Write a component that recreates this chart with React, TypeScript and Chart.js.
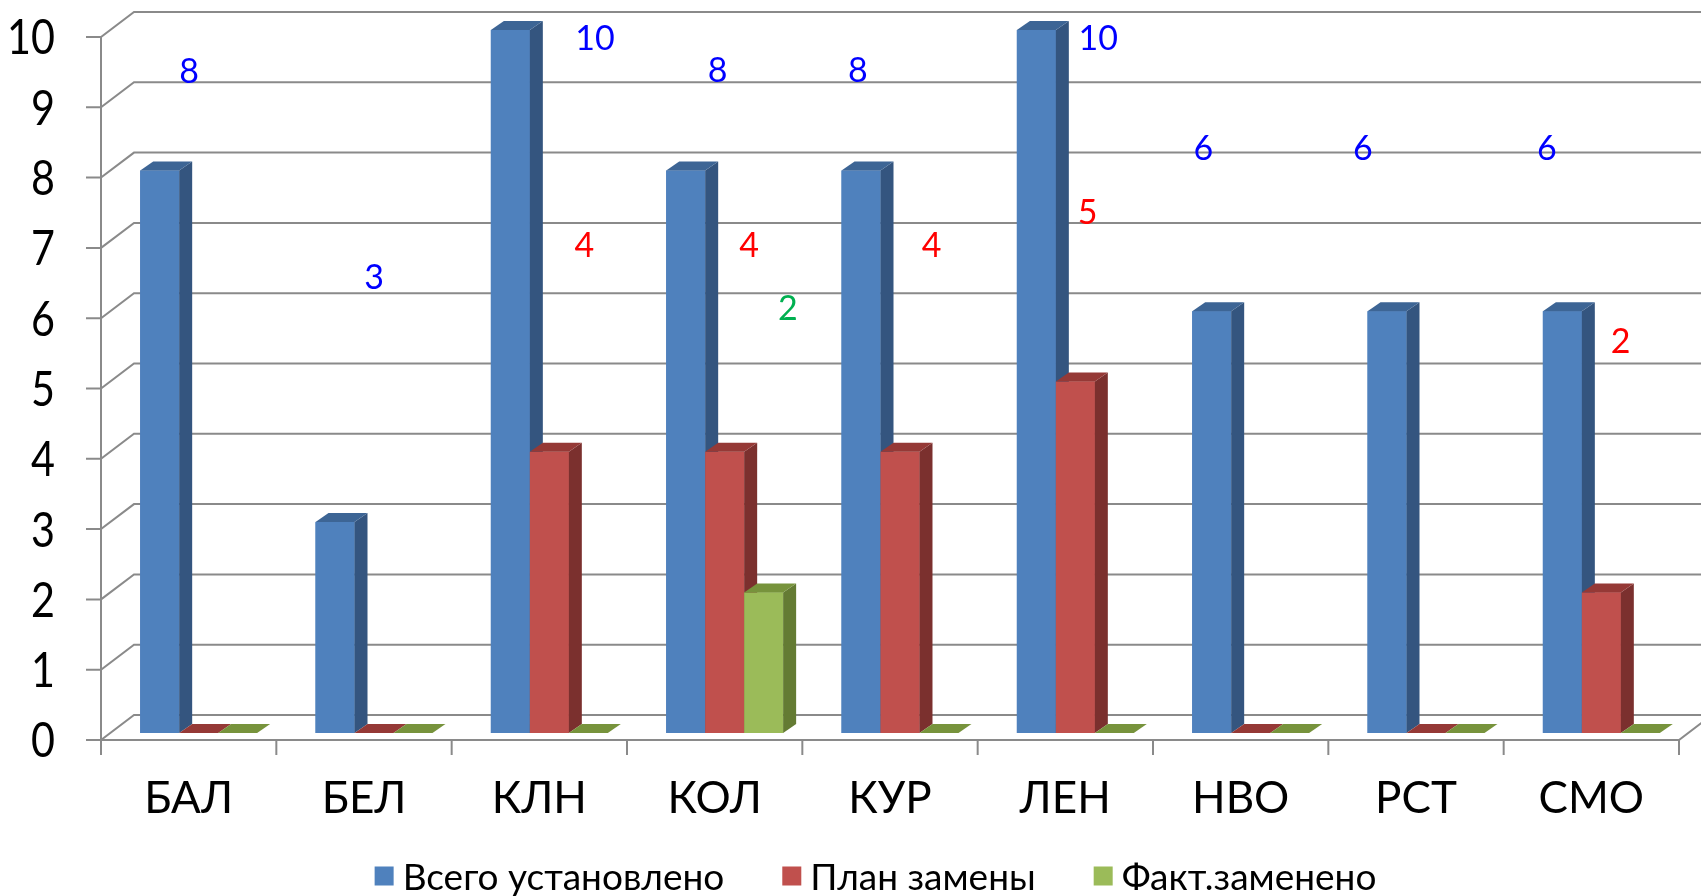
import React, { useEffect, useRef } from "react";
import { Chart, registerables } from "chart.js";
Chart.register(...registerables);

const categories = ["БАЛ", "БЕЛ", "КЛН", "КОЛ", "КУР", "ЛЕН", "НВО", "РСТ", "СМО"];
const totalInstalled = [8, 3, 10, 8, 8, 10, 6, 6, 6];
const planReplace = [0, 0, 4, 4, 4, 5, 0, 0, 2];
const factReplaced = [0, 0, 0, 2, 0, 0, 0, 0, 0];
const seriesNames = ["Всего установлено", "План замены", "Факт.заменено"];
const yTickValues = [0, 1, 2, 3, 4, 5, 6, 7, 8, 9, 10];

// data-label anchors: [category offset, value level] (as placed in the original)
const totalLabelAnchor = [[-0.055, 9.43], [0, 6.5], [0.26, 9.9], [-0.04, 9.45], [-0.24, 9.45], [0.13, 9.9], [-0.27, 8.34], [-0.36, 8.34], [-0.31, 8.34]];
const planLabelAnchor = [[0, 0], [0, 0], [0.2, 6.95], [0.14, 6.95], [0.18, 6.95], [0.07, 7.43], [0, 0], [0, 0], [0.11, 5.59]];
const factLabelAnchor = [[0, 0], [0, 0], [0, 0], [0.36, 6.06], [0, 0], [0, 0], [0, 0], [0, 0], [0, 0]];

const FONT = "Lato";
const FRONT = { dx: -10, dy: 7 };
const BACK = { dx: 23, dy: -18 };
const DEPTH = { dx: 13, dy: -9 };
const GRID = "#8a8a8a";

const faces = [
  { front: "#4F81BD", side: "#34557F", top: "#3D6595" },
  { front: "#C0504D", side: "#7B302E", top: "#953936" },
  { front: "#9BBB59", side: "#647B33", top: "#77933C" },
];
const labelColors = ["#0000FF", "#FF0000", "#00B050"];
const labelAnchors = [totalLabelAnchor, planLabelAnchor, factLabelAnchor];

const pseudo3d = {
  id: "pseudo3d",
  beforeDatasetsDraw(chart: any) {
    const { ctx, scales, chartArea } = chart;
    const x = scales.x, y = scales.y;
    ctx.save();
    ctx.strokeStyle = GRID;
    ctx.lineWidth = 2;
    const fl = chartArea.left + FRONT.dx;
    const fr = chartArea.right + FRONT.dx;
    const bl = chartArea.left + BACK.dx;
    yTickValues.forEach((v) => {
      const py = y.getPixelForValue(v);
      ctx.beginPath();
      ctx.moveTo(fl - 15, py + FRONT.dy);
      ctx.lineTo(fl, py + FRONT.dy);
      ctx.lineTo(bl, py + BACK.dy);
      ctx.lineTo(chart.width + 5, py + BACK.dy);
      ctx.stroke();
    });
    const y0 = y.getPixelForValue(0);
    const y10 = y.getPixelForValue(10);
    ctx.beginPath();
    ctx.moveTo(fl, y10 + FRONT.dy);
    ctx.lineTo(fl, y0 + FRONT.dy);
    ctx.lineTo(fr, y0 + FRONT.dy);
    ctx.lineTo(chartArea.right + BACK.dx, y0 + BACK.dy);
    ctx.stroke();
    const cw = (x.right - x.left) / categories.length;
    for (let i = 0; i <= categories.length; i++) {
      const px = x.left + i * cw + FRONT.dx;
      ctx.beginPath();
      ctx.moveTo(px, y0 + FRONT.dy);
      ctx.lineTo(px, y0 + FRONT.dy + 15);
      ctx.stroke();
    }
    // tick labels (narrow, tall digits)
    ctx.fillStyle = "#000";
    ctx.font = `48px ${FONT}`;
    ctx.textAlign = "right";
    ctx.textBaseline = "middle";
    yTickValues.forEach((v) => {
      const tx = fl - 46, ty = y.getPixelForValue(v) + FRONT.dy + 2;
      ctx.save();
      ctx.translate(tx, ty);
      ctx.scale(0.86, 1);
      ctx.fillText(String(v), 0, 0);
      ctx.restore();
    });
    ctx.font = `44px ${FONT}`;
    ctx.textAlign = "center";
    categories.forEach((c, i) => {
      ctx.fillText(c, x.getPixelForValue(i) + FRONT.dx, y0 + FRONT.dy + 59);
    });
    ctx.restore();
  },
  afterDatasetsDraw(chart: any) {
    const { ctx, scales } = chart;
    const x = scales.x, y = scales.y;
    ctx.save();
    const n = chart.data.datasets.length;
    for (let i = 0; i < categories.length; i++) {
      for (let d = 0; d < n; d++) {
        const el = chart.getDatasetMeta(d).data[i];
        const p = el.getProps(["x", "y", "base", "width"], true);
        const l = p.x - p.width / 2;
        const r = p.x + p.width / 2;
        const t = Math.min(p.y, p.base);
        const b = p.base;
        const f = faces[d];
        if (b - t > 0.5) {
          ctx.fillStyle = f.front;
          ctx.fillRect(l, t, r - l, b - t);
          ctx.fillStyle = f.side;
          ctx.beginPath();
          ctx.moveTo(r, t);
          ctx.lineTo(r + DEPTH.dx, t + DEPTH.dy);
          ctx.lineTo(r + DEPTH.dx, b + DEPTH.dy);
          ctx.lineTo(r, b);
          ctx.closePath();
          ctx.fill();
        }
        ctx.fillStyle = f.top;
        ctx.beginPath();
        ctx.moveTo(l, t);
        ctx.lineTo(r, t);
        ctx.lineTo(r + DEPTH.dx, t + DEPTH.dy);
        ctx.lineTo(l + DEPTH.dx, t + DEPTH.dy);
        ctx.closePath();
        ctx.fill();
      }
    }
    // data labels
    ctx.font = `34px ${FONT}`;
    ctx.textAlign = "center";
    ctx.textBaseline = "middle";
    chart.data.datasets.forEach((ds: any, d: number) => {
      ds.data.forEach((v: number, i: number) => {
        if (!v) return;
        const a = labelAnchors[d][i];
        ctx.fillStyle = labelColors[d];
        ctx.fillText(String(v), x.getPixelForValue(i + a[0]), y.getPixelForValue(a[1]) + 2);
      });
    });
    // legend
    ctx.font = `37px ${FONT}`;
    ctx.textAlign = "left";
    const box = 19, gapText = 9, gapItem = 58;
    const widths = seriesNames.map((s) => box + gapText + ctx.measureText(s).width);
    const total = widths.reduce((a, b) => a + b, 0) + gapItem * (widths.length - 1);
    let lx = chart.width / 2 + 25 - total / 2;
    const ly = 876;
    seriesNames.forEach((s, d) => {
      ctx.fillStyle = faces[d].front;
      ctx.fillRect(lx, ly - box / 2, box, box);
      ctx.fillStyle = "#000";
      ctx.fillText(s, lx + box + gapText, ly + 2);
      lx += widths[d] + gapItem;
    });
    ctx.restore();
  },
};

export default function App() {
  const ref = useRef<HTMLCanvasElement>(null);
  useEffect(() => {
    let chart: Chart | null = null;
    let cancelled = false;
    const make = () => {
      if (cancelled || !ref.current) return;
      chart = new Chart(ref.current, {
        type: "bar",
        data: {
          labels: categories,
          datasets: [
            { label: seriesNames[0], data: totalInstalled, backgroundColor: faces[0].front, borderWidth: 0 },
            { label: seriesNames[1], data: planReplace, backgroundColor: faces[1].front, borderWidth: 0 },
            { label: seriesNames[2], data: factReplaced, backgroundColor: faces[2].front, borderWidth: 0 },
          ],
        },
        options: {
          animation: false,
          responsive: true,
          maintainAspectRatio: false,
          layout: { padding: { left: 111, right: 12, top: 30, bottom: 163 } },
          datasets: { bar: { barPercentage: 1, categoryPercentage: 0.667 } },
          plugins: { legend: { display: false }, tooltip: { enabled: false } },
          scales: {
            x: { display: false },
            y: { display: false, min: 0, max: 10 },
          },
        } as any,
        plugins: [pseudo3d],
      });
    };
    const fonts: any = (document as any).fonts;
    if (fonts && fonts.load) {
      Promise.all([fonts.load(`45px ${FONT}`), fonts.load(`34px ${FONT}`)]).then(make, make);
    } else make();
    return () => {
      cancelled = true;
      if (chart) chart.destroy();
    };
  }, []);
  return (
    <div style={{ position: "absolute", left: 0, top: 0, width: 1701, height: 896, background: "#fff" }}>
      <canvas ref={ref} />
    </div>
  );
}
